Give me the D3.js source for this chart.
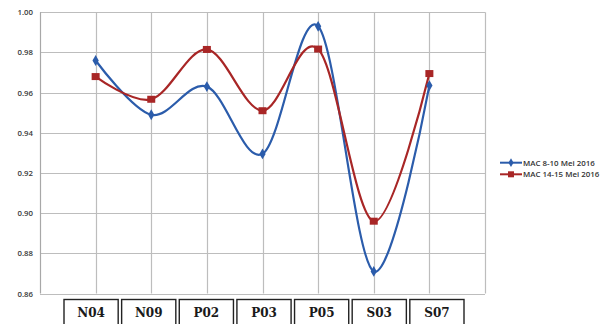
<!DOCTYPE html>
<html>
<head>
<meta charset="utf-8">
<script src="https://cdn.jsdelivr.net/npm/d3@7"></script>
<style>
  html, body { margin: 0; padding: 0; background: #fff; }
  svg { display: block; }
</style>
</head>
<body>
<svg id="chart" width="608" height="324"></svg>
<script>
const categories = ["N04", "N09", "P02", "P03", "P05", "S03", "S07"];
const seriesNames = ["MAC 8-10 Mei 2016", "MAC 14-15 Mei 2016"];
const seriesBlue = [0.976, 0.949, 0.963, 0.9295, 0.993, 0.871, 0.9635];
const seriesRed = [0.968, 0.9567, 0.9815, 0.951, 0.9817, 0.896, 0.9695];
const yTicks = [0.86, 0.88, 0.90, 0.92, 0.94, 0.96, 0.98, 1.00];

const colors = ["#2b5cab", "#a82626"];
const svg = d3.select("#chart");

const pLeft = 40, pRight = 485, pTop = 12.3, pBottom = 293.5;
const step = (pRight - pLeft) / 8;

const x = d3.scalePoint().domain(categories).range([pLeft + step, pRight - step]);
const y = d3.scaleLinear().domain([0.86, 1.00]).range([pBottom, pTop]);

const grid = svg.append("g");
grid.selectAll("line.h").data(yTicks).join("line")
  .attr("x1", pLeft).attr("x2", pRight)
  .attr("y1", d => Math.round(y(d)) + 0.5).attr("y2", d => Math.round(y(d)) + 0.5)
  .attr("stroke", "#bdbdbd").attr("stroke-width", 1.2);
grid.selectAll("line.v").data(categories).join("line")
  .attr("x1", d => Math.round(x(d)) + 0.5).attr("x2", d => Math.round(x(d)) + 0.5)
  .attr("y1", pTop).attr("y2", pBottom)
  .attr("stroke", "#bdbdbd").attr("stroke-width", 1.2);
grid.append("line").attr("x1", pRight + 0.5).attr("x2", pRight + 0.5).attr("y1", pTop).attr("y2", pBottom)
  .attr("stroke", "#bdbdbd").attr("stroke-width", 1.2);
grid.append("line").attr("x1", pLeft + 0.5).attr("x2", pLeft + 0.5).attr("y1", pTop).attr("y2", pBottom)
  .attr("stroke", "#a8a8a8").attr("stroke-width", 1.2);

const yAxis = d3.axisLeft(y).tickValues(yTicks).tickFormat(d3.format(".2f")).tickSize(0).tickPadding(7);
const ya = svg.append("g").attr("transform", `translate(${pLeft},0)`).call(yAxis);
ya.select(".domain").remove();
ya.selectAll("text").attr("font-family", "'Open Sans', sans-serif").attr("font-size", 7.8)
  .attr("font-weight", 600).attr("fill", "#3a3a3a");

const line = d3.line().x((d, i) => x(categories[i])).y(d => y(d)).curve(d3.curveCardinal.tension(0));
[seriesBlue, seriesRed].forEach((s, k) => {
  svg.append("path").datum(s).attr("d", line).attr("fill", "none")
    .attr("stroke", colors[k]).attr("stroke-width", 2.2);
});
const diamond = d3.symbol().type(d3.symbolDiamond).size(34);
svg.append("g").selectAll("path").data(seriesBlue).join("path")
  .attr("d", diamond).attr("transform", (d, i) => `translate(${x(categories[i])},${y(d)})`)
  .attr("fill", colors[0]);
svg.append("g").selectAll("rect").data(seriesRed).join("rect")
  .attr("x", (d, i) => x(categories[i]) - 4).attr("y", d => y(d) - 3.5)
  .attr("width", 8).attr("height", 7).attr("fill", colors[1]);

const xb = d3.scaleBand().domain(categories).range([64, 464]).paddingInner(0.06);
const boxes = svg.append("g").selectAll("g").data(categories).join("g")
  .attr("transform", d => `translate(${xb(d)},299.5)`);
boxes.append("rect").attr("width", xb.bandwidth()).attr("height", 30)
  .attr("fill", "#fff").attr("stroke", "#222").attr("stroke-width", 1.4);
boxes.append("text").attr("x", xb.bandwidth() / 2).attr("y", 17)
  .attr("text-anchor", "middle").attr("font-family", "'DejaVu Serif', serif")
  .attr("font-weight", "bold").attr("font-size", 12).attr("fill", "#1a1a1a").text(d => d);

const lg = svg.append("g").attr("transform", "translate(500,0)");
const legendY = [162.7, 174.3];
seriesNames.forEach((name, k) => {
  const g = lg.append("g").attr("transform", `translate(0,${legendY[k]})`);
  g.append("line").attr("x1", 0).attr("x2", 22).attr("y1", 0).attr("y2", 0)
    .attr("stroke", colors[k]).attr("stroke-width", 2);
  if (k === 0) g.append("path").attr("d", d3.symbol().type(d3.symbolDiamond).size(22)).attr("transform", "translate(11,0)").attr("fill", colors[0]);
  else g.append("rect").attr("x", 8).attr("y", -3).attr("width", 6).attr("height", 6).attr("fill", colors[1]);
  g.append("text").attr("x", 23).attr("y", 2.8).attr("font-family", "'Open Sans', sans-serif")
    .attr("font-size", 7.9).attr("font-weight", 600).attr("fill", "#333").text(name);
});
</script>
</body>
</html>
